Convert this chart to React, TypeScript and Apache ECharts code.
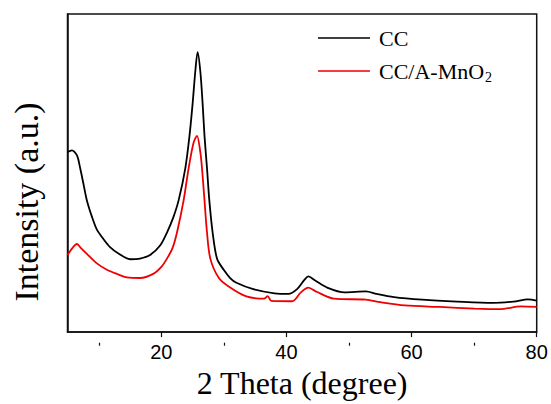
import React, { useEffect, useRef } from "react";
import * as echarts from "echarts";

const ccTheta = [5.0, 5.7, 6.5, 7.03, 7.56, 8.1, 8.9, 9.7, 10.76, 11.8, 13.2, 15.0, 16.6, 18.2, 19.8, 20.9, 21.9, 22.76, 23.83, 24.5, 25.0, 25.43, 25.8, 26.23, 26.6, 26.9, 27.3, 27.67, 28.2, 28.9, 30.0, 31.0, 32.0, 34.7, 38.1, 40.3, 41.7, 42.9, 43.5, 44.6, 46.5, 49.3, 52.7, 54.4, 57.2, 61.7, 67.3, 73.0, 76.3, 78.6, 80.0];
const ccIntensity = [56.6, 57.1, 55.6, 51.5, 46.5, 41.4, 36.3, 32.2, 29.2, 26.7, 24.6, 22.9, 23.1, 24.2, 27.2, 31.3, 36.0, 41.4, 51.5, 61.7, 71.8, 82.0, 88.0, 82.0, 71.8, 61.7, 51.5, 41.4, 31.3, 23.1, 19.5, 17.0, 15.5, 13.5, 12.2, 12.0, 13.5, 16.5, 17.5, 16.2, 14.0, 12.5, 12.8, 12.0, 11.0, 10.2, 9.6, 9.2, 9.6, 10.3, 9.9];

const mnoTheta = [5.0, 5.8, 6.5, 7.2, 8.1, 9.7, 11.3, 12.9, 14.5, 16.6, 18.7, 20.0, 20.9, 21.8, 22.5, 23.56, 24.36, 25.16, 25.7, 26.23, 26.5, 26.9, 27.3, 27.83, 29.2, 31.0, 33.6, 36.4, 37.0, 37.6, 40.9, 42.3, 43.5, 44.8, 47.6, 52.7, 55.0, 58.9, 64.5, 70.1, 74.1, 77.5, 80.0];
const mnoIntensity = [24.2, 26.5, 27.7, 26.3, 24.6, 21.6, 19.6, 18.3, 17.2, 17.0, 18.3, 20.5, 23.1, 26.5, 31.3, 41.4, 51.5, 59.6, 61.7, 56.6, 51.5, 41.4, 31.3, 23.1, 17.0, 14.0, 11.2, 10.5, 11.3, 9.8, 9.7, 12.5, 14.0, 12.7, 10.5, 10.2, 9.4, 8.4, 7.9, 7.4, 7.2, 8.1, 7.9];

const seriesNames = ["CC", "CC/A-MnO2"];
const majorTicks = [20, 40, 60, 80];
const minorTicks = [10, 30, 50, 70];
const xTitle = "2 Theta (degree)";
const yTitle = "Intensity (a.u.)";

const zip = (xs: number[], ys: number[]) => xs.map((x, i) => [x, ys[i]]);

const gridBox = { left: 67.5, right: 14.3, top: 14, bottom: 61.3, containLabel: false };

export default function App() {
  const ref = useRef<HTMLDivElement>(null);
  useEffect(() => {
    if (!ref.current) return;
    const chart = echarts.init(ref.current, null, { renderer: "svg" });
    chart.setOption({
      animation: false,
      backgroundColor: "#fff",
      grid: [
        { ...gridBox, show: true, borderColor: "#111", borderWidth: 1.5 },
        { ...gridBox, show: false },
      ],
      legend: {
        orient: "vertical",
        left: 318,
        top: 25,
        padding: 0,
        itemWidth: 52,
        itemHeight: 1.3,
        itemGap: 7,
        icon: "rect",
        data: seriesNames,
        formatter: (name: string) => (name === "CC/A-MnO2" ? "CC/A-MnO{sub|2}" : name),
        textStyle: {
          fontFamily: "Liberation Serif",
          fontSize: 22,
          color: "#000",
          lineHeight: 26,
          padding: [0, 0, 0, 4],
          rich: {
            sub: {
              fontFamily: "Liberation Serif",
              fontSize: 14,
              color: "#000",
              verticalAlign: "bottom",
              lineHeight: 14,
              padding: [12, 0, 0, 1],
            },
          },
        },
      },
      graphic: [
        {
          type: "text",
          x: 26,
          y: 202,
          rotation: Math.PI / 2,
          style: {
            text: yTitle,
            fontFamily: "Liberation Serif",
            fontSize: 34,
            fill: "#000",
            align: "center",
            verticalAlign: "middle",
          },
        },
      ],
      xAxis: [
        {
          type: "value",
          gridIndex: 0,
          min: 5,
          max: 80,
          name: xTitle,
          nameLocation: "middle",
          nameGap: 26,
          nameTextStyle: { fontFamily: "Liberation Serif", fontSize: 32, color: "#000" },
          axisLine: { show: true, lineStyle: { color: "#111", width: 1.5 } },
          axisTick: { show: true, customValues: majorTicks, length: 5, inside: false, lineStyle: { color: "#111", width: 1.2 } },
          axisLabel: { show: true, customValues: majorTicks, margin: 10, fontFamily: "Liberation Sans", fontSize: 20, color: "#000" },
          splitLine: { show: false },
        },
        {
          type: "value",
          gridIndex: 1,
          min: 5,
          max: 80,
          position: "bottom",
          axisLine: { show: false },
          axisTick: { show: true, customValues: minorTicks, length: 3, inside: false, lineStyle: { color: "#111", width: 1.2 } },
          axisLabel: { show: false },
          splitLine: { show: false },
        },
      ],
      yAxis: [
        {
          type: "value",
          gridIndex: 0,
          min: 0,
          max: 100,
          axisLine: { show: true, lineStyle: { color: "#111", width: 1.5 } },
          axisTick: { show: false },
          axisLabel: { show: false },
          splitLine: { show: false },
        },
        {
          type: "value",
          gridIndex: 1,
          min: 0,
          max: 100,
          show: false,
        },
      ],
      series: [
        {
          name: seriesNames[0],
          type: "line",
          xAxisIndex: 0,
          yAxisIndex: 0,
          data: zip(ccTheta, ccIntensity),
          showSymbol: false,
          smooth: 0.3,
          lineStyle: { color: "#000", width: 1.8 },
          itemStyle: { color: "#000" },
        },
        {
          name: seriesNames[1],
          type: "line",
          xAxisIndex: 0,
          yAxisIndex: 0,
          data: zip(mnoTheta, mnoIntensity),
          showSymbol: false,
          smooth: 0.3,
          lineStyle: { color: "#ee0000", width: 1.8 },
          itemStyle: { color: "#ee0000" },
        },
      ],
    });
    return () => chart.dispose();
  }, []);
  return <div ref={ref} style={{ position: "fixed", left: 0, top: 0, width: 551, height: 404 }} />;
}
